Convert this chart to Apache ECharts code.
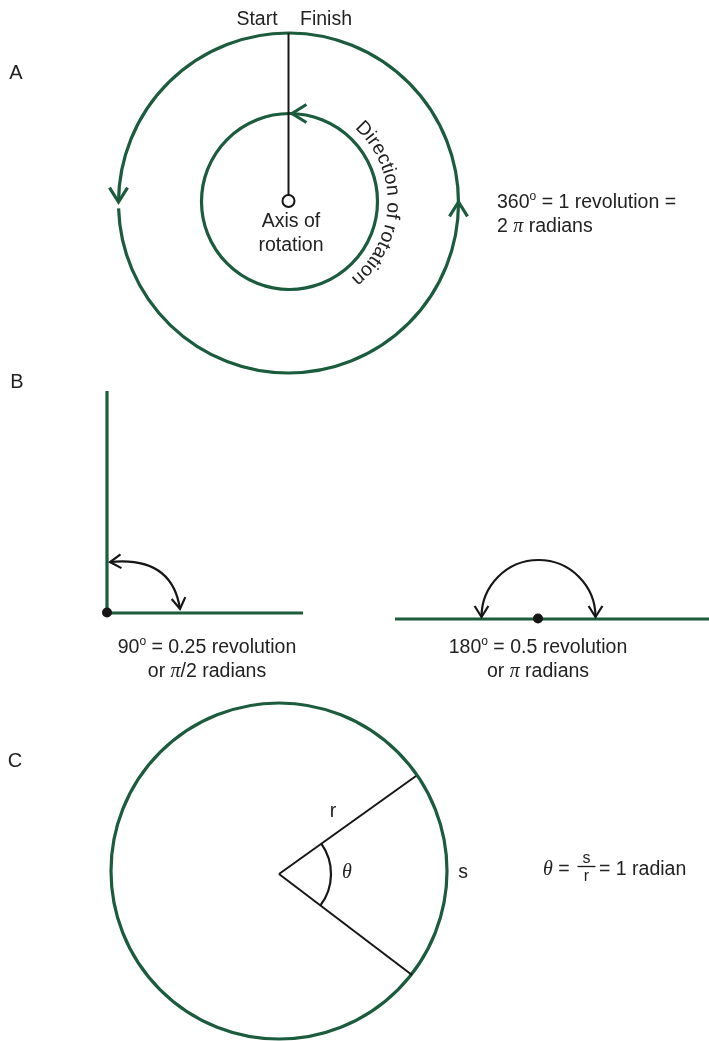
<!DOCTYPE html>
<html><head><meta charset="utf-8">
<script src="https://cdn.jsdelivr.net/npm/echarts@6/dist/echarts.min.js"></script>
<style>html,body{margin:0;padding:0;background:#fff}#c{width:709px;height:1041px}</style>
</head><body><div id="c"></div>
<script>
// ---- diagram data (drawing units: x to the right, y downward) ----
// arcs: [cx, cy, r, startDeg, endDeg]  (angles clockwise from +x)
const greenArcs = [
  [288.5, 203, 170, 180.4, 360],
  [288.5, 203, 170, 0, 178.2],
  [289.5, 201.5, 88, 0, 360],
  [279, 871, 168, 0, 360]
];
const blackArcs = [
  [538.5, 617, 57, 180, 360],
  [279, 874, 52, -35.6, 37.2]
];
// segments: [x1, y1, x2, y2]
const greenSegments = [
  [107, 391, 107, 613],
  [107, 613, 303, 613],
  [395, 619, 709, 619]
];
const blackSegments = [
  [288.5, 33, 288.5, 195],
  [279, 874, 416, 776],
  [279, 874, 412, 975]
];
const fractionBars = [[577.5, 866.5, 595.5, 866.5]];
// quadratic curves: [x1, y1, cx, cy, x2, y2]
const blackCurves = [[110, 562, 172, 556, 180, 609]];
// arrowheads: [tipX, tipY, pointingDeg]
const greenArrowHeads = [
  [118.5, 202, 90],
  [458.5, 202, 270],
  [292, 113.5, 180]
];
const blackArrowHeads = [
  [110, 562, 176],
  [180, 609, 82],
  [481.5, 617, 90],
  [595.5, 617, 90]
];
const openDots = [[288.5, 201]];
const solidDots = [[107, 612.5], [538, 618.5]];
// labels: [text, x, y, align]
const panelLetters = [['A', 16, 73], ['B', 17, 382], ['C', 15, 761]];
const plainLabels = [
  ['Start', 257, 20, 'center'],
  ['Finish', 326, 20, 'center'],
  ['Axis of\nrotation', 291, 233.5, 'center'],
  ['r', 333, 812, 'center'],
  ['s', 463, 873, 'center'],
  ['= 1 radian', 599, 870, 'left']
];
const richLabels = [
  ['360{sup|o} = 1 revolution =\n2 {pi|π} radians', 497, 215, 'left'],
  ['90{sup|o} = 0.25 revolution\nor {pi|π}/2 radians', 207, 660, 'center'],
  ['180{sup|o} = 0.5 revolution\nor {pi|π} radians', 538, 660, 'center'],
  ['{it|θ} =', 543, 870, 'left'],
  ['{it|θ}', 347, 873, 'center']
];
const fractionLabels = [['s', 586.5, 858.5], ['r', 586.5, 877]];
// curved caption: [text, cx, cy, baselineR, midDeg]
const curvedLabels = [['Direction of rotation', 289.5, 201.5, 97, 1.5]];

// ---- styles ----
const GREEN = '#1b5c3d', INK = '#161616', TXT = '#222';
const FONT = 'Liberation Sans, Arial, sans-serif';
const SERIF = 'Liberation Serif, DejaVu Serif, serif';
const FS = 19.5;
const rad = d => d * Math.PI / 180;
const richStyles = {
  sup: {fontSize: 12, fontFamily: FONT, fill: TXT, verticalAlign: 'top', lineHeight: 14},
  pi: {fontSize: 20, fontFamily: SERIF, fontStyle: 'italic', fill: TXT, lineHeight: 24},
  it: {fontSize: 20, fontFamily: SERIF, fontStyle: 'italic', fill: TXT, lineHeight: 24}
};

function series(arr, xy, build) {
  return {
    type: 'custom', coordinateSystem: 'cartesian2d', silent: true, clip: false,
    data: arr.map(xy),
    renderItem: (params, api) => build(arr[params.dataIndex], api)
  };
}
const P = (api, x, y) => api.coord([x, y]);
const L = (api, r) => api.size([r, 0])[0];

function arcEl(color, width) {
  return (d, api) => {
    const c = P(api, d[0], d[1]);
    return {type: 'arc', shape: {cx: c[0], cy: c[1], r: L(api, d[2]), startAngle: rad(d[3]), endAngle: rad(d[4]), clockwise: true},
      style: {stroke: color, lineWidth: width, fill: null}};
  };
}
function segEl(color, width) {
  return (d, api) => {
    const a = P(api, d[0], d[1]), b = P(api, d[2], d[3]);
    return {type: 'line', shape: {x1: a[0], y1: a[1], x2: b[0], y2: b[1]}, style: {stroke: color, lineWidth: width, lineCap: 'butt'}};
  };
}
function headEl(color, width, len, half) {
  return (d, api) => {
    const t = P(api, d[0], d[1]);
    const back = rad(d[2] + 180);
    const pts = [
      [t[0] + len * Math.cos(back - rad(half)), t[1] + len * Math.sin(back - rad(half))],
      t,
      [t[0] + len * Math.cos(back + rad(half)), t[1] + len * Math.sin(back + rad(half))]
    ];
    return {type: 'polyline', shape: {points: pts}, style: {stroke: color, lineWidth: width, fill: null, lineJoin: 'miter'}};
  };
}
function textEl(size, family, extra) {
  return (d, api) => {
    const c = P(api, d[1], d[2]);
    return {type: 'text', x: c[0], y: c[1], style: Object.assign({
      text: d[0], fill: TXT, fontSize: size, fontFamily: family, lineHeight: 24,
      align: d[3] || 'center', verticalAlign: 'middle'}, extra || {})};
  };
}
function curvedEl(d, api) {
  const c = P(api, d[1], d[2]);
  const rb = L(api, d[3]), rm = rb + 6.5;
  const ctx = document.createElement('canvas').getContext('2d');
  ctx.font = FS + 'px ' + FONT;
  const chars = [...d[0]];
  const w = chars.map(ch => ctx.measureText(ch).width);
  const total = w.reduce((a, b) => a + b, 0);
  let acc = -total / 2;
  const children = chars.map((ch, i) => {
    const a = rad(d[4]) + (acc + w[i] / 2) / rb;
    acc += w[i];
    return {type: 'text', x: c[0] + rm * Math.cos(a), y: c[1] + rm * Math.sin(a), rotation: -(a + Math.PI / 2),
      style: {text: ch, fill: TXT, fontSize: FS, fontFamily: FONT, align: 'center', verticalAlign: 'middle'}};
  });
  return {type: 'group', children};
}

const xy01 = d => [d[0], d[1]];
const xy12 = d => [d[1], d[2]];

const option = {
  animation: false,
  backgroundColor: '#fff',
  grid: {left: 0, right: 0, top: 0, bottom: 0},
  xAxis: {type: 'value', min: 0, max: 709, show: false},
  yAxis: {type: 'value', min: 0, max: 1041, inverse: true, show: false},
  series: [
    series(greenArcs, xy01, arcEl(GREEN, 3.2)),
    series(greenSegments, xy01, segEl(GREEN, 3.2)),
    series(greenArrowHeads, xy01, headEl(GREEN, 3.2, 17, 32)),
    series(blackArcs, xy01, arcEl(INK, 2.2)),
    series(blackSegments, xy01, segEl(INK, 2)),
    series(fractionBars, xy01, segEl(INK, 1.3)),
    series(blackCurves, xy01, (d, api) => {
      const a = P(api, d[0], d[1]), k = P(api, d[2], d[3]), b = P(api, d[4], d[5]);
      return {type: 'bezierCurve', shape: {x1: a[0], y1: a[1], cpx1: k[0], cpy1: k[1], x2: b[0], y2: b[1]},
        style: {stroke: INK, lineWidth: 2.2, fill: null}};
    }),
    series(blackArrowHeads, xy01, headEl(INK, 2.2, 13, 32)),
    series(openDots, xy01, (d, api) => {
      const c = P(api, d[0], d[1]);
      return {type: 'circle', shape: {cx: c[0], cy: c[1], r: 6}, style: {fill: '#fff', stroke: INK, lineWidth: 2}};
    }),
    series(solidDots, xy01, (d, api) => {
      const c = P(api, d[0], d[1]);
      return {type: 'circle', shape: {cx: c[0], cy: c[1], r: 5}, style: {fill: INK}};
    }),
    series(panelLetters, xy12, textEl(20, FONT)),
    series(plainLabels, xy12, textEl(FS, FONT)),
    series(richLabels, xy12, textEl(FS, FONT, {rich: richStyles})),
    series(fractionLabels, xy12, textEl(16, FONT)),
    series(curvedLabels, xy12, curvedEl)
  ]
};
const chart = echarts.init(document.getElementById('c'), null, {renderer: 'canvas'});
chart.setOption(option);
</script>
</body></html>
